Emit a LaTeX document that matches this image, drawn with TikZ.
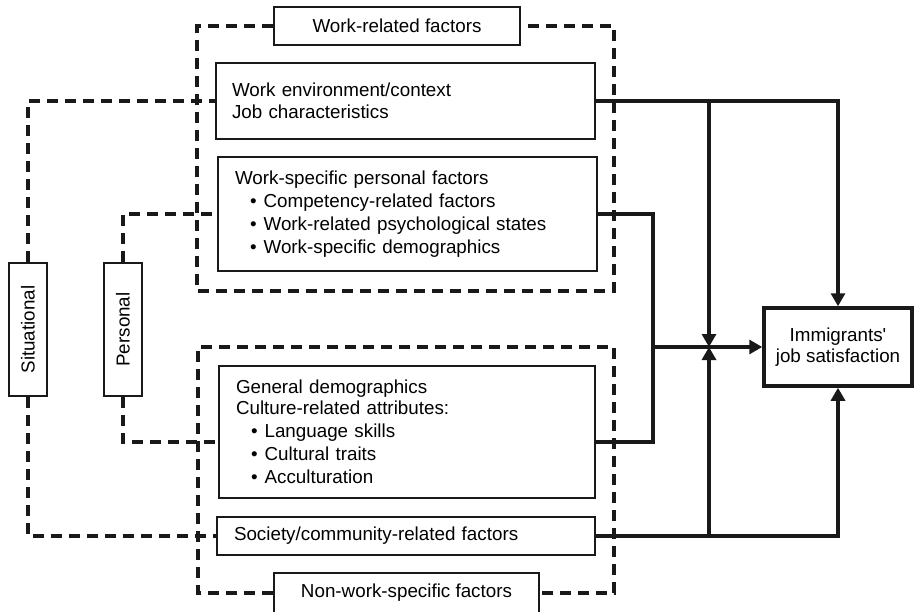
\documentclass[tikz,border=0pt]{standalone}
\usepackage{fontspec}
\setmainfont{Liberation Sans}
\usetikzlibrary{arrows.meta}
\newcommand\itm{\hspace*{15pt}\textbullet\hspace{7pt}}
\begin{document}
\begin{tikzpicture}[x=1pt,y=-1pt,
  font=\fontsize{18.8}{21.5}\selectfont,
  box/.style={draw=black!90, line width=2pt, inner ysep=0pt, rectangle},
  lbox/.style={box, inner xsep=16pt, align=left},
  cbox/.style={box, inner xsep=0pt, align=center},
  dline/.style={draw=black!90, line width=3.2pt, dash pattern=on 11pt off 7pt},
  connline/.style={draw=black!90, line width=3.2pt},
  arrline/.style={connline, -{Triangle[length=13pt,width=14pt]}}]
\useasboundingbox (0,0) rectangle (915,612);
% boxes
\node[cbox, minimum width=246pt, minimum height=38pt] (workrel) at (397,26) {Work-related factors};
\node[lbox, text width=347pt, minimum height=76pt] (workenv) at (405.5,101)
  {Work environment/context\\Job characteristics};
\node[lbox, text width=345pt, inner xsep=17pt, minimum height=114pt] (workspec) at (407.5,214)
  {Work-specific personal factors\\[1.5pt]\itm Competency-related factors\\[1.5pt]\itm Work-related psychological states\\[1.5pt]\itm Work-specific demographics};
\node[lbox, text width=342pt, inner xsep=17pt, minimum height=132pt] (gendem) at (407,432)
  {General demographics\\Culture-related attributes:\\[1.5pt]\itm Language skills\\[1.5pt]\itm Cultural traits\\[1.5pt]\itm Acculturation};
\node[lbox, text width=344pt, inner xsep=17pt, minimum height=38pt] (society) at (406,536)
  {Society/community-related factors};
\node[cbox, minimum width=265pt, minimum height=40pt] (nonwork) at (406.5,593) {Non-work-specific factors};
\node[cbox, line width=3.5pt, minimum width=148pt, minimum height=78pt, font=\fontsize{18.8}{20.7}\selectfont] (imm) at (838,347)
  {Immigrants\textquotesingle\\job satisfaction};
\node[cbox, rotate=90, minimum width=133pt, minimum height=38pt] (sit) at (28,329.5) {Situational};
\node[cbox, rotate=90, minimum width=133pt, minimum height=38pt] (pers) at (123,329.5) {Personal};
% coordinates
\coordinate (tfbl) at (197,291);
\coordinate (tftr) at (614,26);
\coordinate (bftl) at (198,347);
\coordinate (bfbr) at (614,593);
\coordinate (gdw) at (219,442);
\coordinate (gde) at (595,442);
\coordinate (vx) at (653,215);
\coordinate (vj) at (653,347);
\coordinate (junc) at (709,347);
\coordinate (jtop) at (709,101);
\coordinate (jbot) at (709,535);
% dashed frames
\draw[dline] (workrel.west) -| (tfbl) -| (tftr) -- (workrel.east);
\draw[dline] (nonwork.west) -| (bftl) -| (bfbr) -- (nonwork.east);
% dashed links
\draw[dline] (sit.east) |- (workenv.west);
\draw[dline] (sit.west) |- (society.west);
\draw[dline] (pers.east) |- (workspec.west);
\draw[dline] (pers.west) |- (gdw);
% solid connectors
\draw[arrline] (workenv.east) -| (imm.north);
\draw[arrline] (society.east) -| (imm.south);
\draw[arrline] (jtop) -- (junc);
\draw[arrline] (jbot) -- (junc);
\draw[connline] (workspec.east) -| (vx) -- (vx |- gde) -- (gde);
\draw[arrline] (vj) -- (imm.west);
\end{tikzpicture}
\end{document}
